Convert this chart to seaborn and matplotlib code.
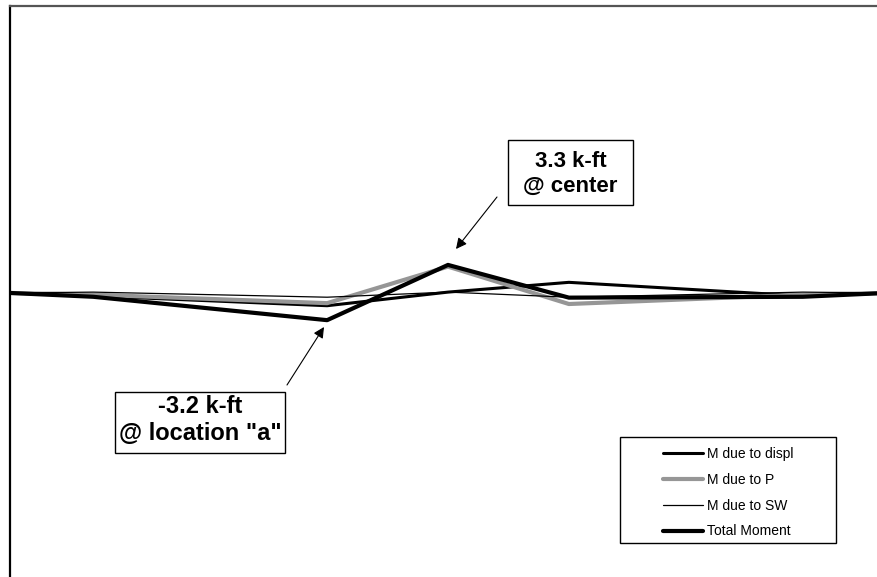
import matplotlib
matplotlib.use("Agg")
import matplotlib.pyplot as plt
from matplotlib.patches import Rectangle
from matplotlib.lines import Line2D
import seaborn as sns
import pandas as pd

# ---- data (k-ft along the span, % of length) ----
positions = [0, 9.5, 36.2, 50, 63.8, 90.5, 100]
m_displ = [0, -0.35, -1.5, 0.1, 1.25, -0.35, 0]
m_p = [0, -0.2, -1.2, 3.1, -1.3, -0.2, 0]
m_sw = [0, 0.1, -0.5, 0.1, -0.5, 0.1, 0]
m_total = [0, -0.45, -3.2, 3.3, -0.55, -0.45, 0]
series_names = ["M due to displ", "M due to P", "M due to SW", "Total Moment"]
note_center = "3.3 k-ft\n@ center"
note_a = "-3.2 k-ft\n@ location \"a\""

sns.set_theme(style="white")
plt.rcParams["font.family"] = ["Liberation Sans", "DejaVu Sans"]
plt.rcParams["text.color"] = "black"

W, H = 877, 577
fig = plt.figure(figsize=(W / 100, H / 100), dpi=100)

# axes geometry in pixels
ax_left_px, ax_right_px = 10, 886
ax_top_px = 6
x_min, x_max = 0, 100
y_top = 33.76
y_bot = -35.0
px_per_y = 8.5
ax_bot_px = ax_top_px + (y_top - y_bot) * px_per_y

ax = fig.add_axes([ax_left_px / W, 1 - ax_bot_px / H,
                   (ax_right_px - ax_left_px) / W, (ax_bot_px - ax_top_px) / H])

def px2data(px, py):
    xd = x_min + (px - ax_left_px) / (ax_right_px - ax_left_px) * (x_max - x_min)
    yd = y_top - (py - ax_top_px) / px_per_y
    return xd, yd

df = pd.DataFrame({"x": positions, "displ": m_displ, "p": m_p, "sw": m_sw, "total": m_total})

styles = [
    ("displ", "#000000", 2.2),
    ("p", "#969696", 3.0),
    ("sw", "#000000", 0.9),
    ("total", "#000000", 3.0),
]
for col, color, lw in styles:
    sns.lineplot(data=df, x="x", y=col, ax=ax, color=color, linewidth=lw,
                 estimator=None, sort=False, legend=False, clip_on=True)

ax.set_xlim(x_min, x_max)
ax.set_ylim(y_bot, y_top)
ax.set_xticks([])
ax.set_yticks([])
ax.set_xlabel("")
ax.set_ylabel("")
ax.set_facecolor("white")
for s in ["right", "bottom"]:
    ax.spines[s].set_visible(False)
ax.spines["left"].set_color("#000000")
ax.spines["left"].set_linewidth(1.6)
ax.spines["top"].set_color("#555555")
ax.spines["top"].set_linewidth(1.6)

# ---- annotation boxes ----
def fig_rect(x0, y0, x1, y1, lw=1.0):
    r = Rectangle((x0 / W, 1 - y1 / H), (x1 - x0) / W, (y1 - y0) / H,
                  transform=fig.transFigure, facecolor="white", edgecolor="black",
                  linewidth=lw, zorder=5)
    fig.add_artist(r)

fig_rect(508, 140, 633, 205)
fig.text(570.5 / W, 1 - 174 / H, note_center, ha="center", va="center", color="black",
         fontsize=16, fontweight="bold", linespacing=1.3, zorder=6)
fig_rect(115, 392, 285, 453)
fig.text(200.5 / W, 1 - 420 / H, note_a, ha="center", va="center", color="black",
         fontsize=17.0, fontweight="bold", linespacing=1.22, zorder=6)

arrowprops = dict(arrowstyle="-|>", color="black", lw=0.8, mutation_scale=16,
                  shrinkA=0, shrinkB=0)
ax.annotate("", xy=px2data(456, 249), xytext=px2data(497, 197), arrowprops=arrowprops)
ax.annotate("", xy=px2data(324, 327), xytext=px2data(287, 385), arrowprops=arrowprops)

# ---- legend ----
fig_rect(620, 437, 836, 543)
handles = [Line2D([], [], color=c, linewidth=lw) for _, c, lw in styles]
leg = fig.legend(handles, series_names, loc="upper left",
                 bbox_to_anchor=(663 / W, 1 - 447 / H), frameon=False,
                 fontsize=10, handlelength=2.9, handletextpad=0.25,
                 labelspacing=0.85, borderpad=0.0, borderaxespad=0.0)
for t in leg.get_texts():
    t.set_color("black")
leg.set_zorder(7)

fig.savefig("out.png", dpi=100, facecolor="white")
